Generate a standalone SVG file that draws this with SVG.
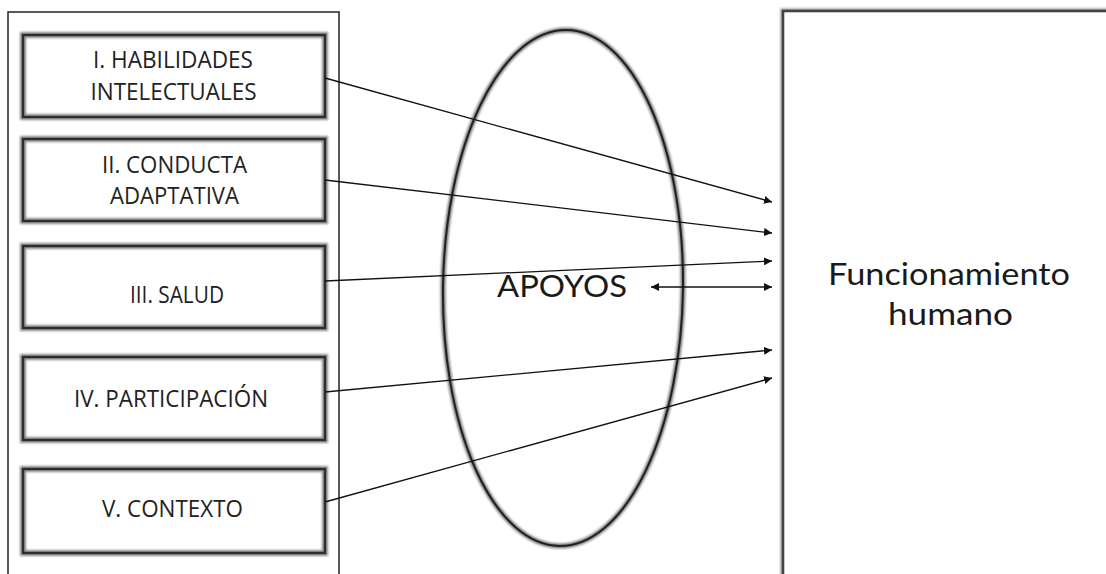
<svg xmlns="http://www.w3.org/2000/svg" width="1106" height="574" viewBox="0 0 1106 574">
  <defs>
    <filter id="soft" x="-10%" y="-10%" width="120%" height="120%">
      <feGaussianBlur stdDeviation="1.3"/>
    </filter>
    <marker id="head" viewBox="0 0 10 10" refX="10" refY="5" markerWidth="8" markerHeight="8" markerUnits="userSpaceOnUse" orient="auto-start-reverse">
      <path d="M0,0 L10,5 L0,10 z" fill="#111"/>
    </marker>
    <style>
      .halo { fill: none; stroke: #8a8a8a; stroke-width: 6; filter: url(#soft); }
      .edge { fill: none; stroke: #2e2e2e; stroke-width: 2.4; }
      .label { font-family: "Open Sans", "Liberation Sans", sans-serif; font-size: 23px; fill: #222; text-anchor: middle; }
      .big { font-family: Lato, "Open Sans", sans-serif; fill: #1a1a1a; text-anchor: middle; }
      .link { stroke: #111; stroke-width: 1.3; fill: none; marker-end: url(#head); }
    </style>
  </defs>

  <rect width="1106" height="574" fill="#fff"/>

  <!-- left panel holding the five dimensions -->
  <rect id="panel" x="8" y="12" width="331" height="600" fill="#fff" stroke="#222" stroke-width="1.5"/>

  <g id="dim1">
    <rect class="halo" x="23" y="35" width="302" height="82"/>
    <rect class="edge" x="23" y="35" width="302" height="82" fill="#fff"/>
    <text class="label" x="173" y="68" textLength="160" lengthAdjust="spacingAndGlyphs">I. HABILIDADES</text>
    <text class="label" x="173.5" y="100" textLength="166" lengthAdjust="spacingAndGlyphs">INTELECTUALES</text>
  </g>
  <g id="dim2">
    <rect class="halo" x="23" y="139" width="302" height="82"/>
    <rect class="edge" x="23" y="139" width="302" height="82" fill="#fff"/>
    <text class="label" x="174.5" y="173" textLength="145" lengthAdjust="spacingAndGlyphs">II. CONDUCTA</text>
    <text class="label" x="174.5" y="204" textLength="129" lengthAdjust="spacingAndGlyphs">ADAPTATIVA</text>
  </g>
  <g id="dim3">
    <rect class="halo" x="23" y="246" width="302" height="82"/>
    <rect class="edge" x="23" y="246" width="302" height="82" fill="#fff"/>
    <text class="label" x="177" y="303" textLength="94" lengthAdjust="spacingAndGlyphs">III. SALUD</text>
  </g>
  <g id="dim4">
    <rect class="halo" x="23" y="357" width="302" height="83"/>
    <rect class="edge" x="23" y="357" width="302" height="83" fill="#fff"/>
    <text class="label" x="171" y="407" textLength="194" lengthAdjust="spacingAndGlyphs">IV. PARTICIPACIÓN</text>
  </g>
  <g id="dim5">
    <rect class="halo" x="23" y="469" width="302" height="84"/>
    <rect class="edge" x="23" y="469" width="302" height="84" fill="#fff"/>
    <text class="label" x="172.5" y="517" textLength="141" lengthAdjust="spacingAndGlyphs">V. CONTEXTO</text>
  </g>

  <!-- supports ellipse -->
  <g id="apoyos">
    <ellipse cx="563" cy="288" rx="120" ry="258" transform="rotate(0.8 563 288)" fill="none" stroke="#777" stroke-width="5" filter="url(#soft)"/>
    <ellipse cx="563" cy="288" rx="120" ry="258" transform="rotate(0.8 563 288)" fill="none" stroke="#222" stroke-width="2"/>
    <text class="big" x="562" y="297" font-size="30" textLength="130" lengthAdjust="spacingAndGlyphs">APOYOS</text>
  </g>

  <!-- human functioning panel -->
  <g id="funcionamiento">
    <rect x="783" y="11" width="400" height="600" fill="none" stroke="#999" stroke-width="5" filter="url(#soft)"/>
    <rect x="783" y="11" width="400" height="600" fill="#fff" stroke="#444" stroke-width="2.6"/>
    <text class="big" x="949" y="285" font-size="31" textLength="242" lengthAdjust="spacingAndGlyphs">Funcionamiento</text>
    <text class="big" x="950.5" y="325" font-size="31" textLength="125" lengthAdjust="spacingAndGlyphs">humano</text>
  </g>

  <!-- connectors -->
  <g id="connectors">
    <line class="link" x1="325" y1="78" x2="772" y2="202"/>
    <line class="link" x1="325" y1="180" x2="772" y2="233"/>
    <line class="link" x1="325" y1="281" x2="772" y2="261"/>
    <line class="link" x1="651" y1="287" x2="772" y2="287" marker-start="url(#head)"/>
    <line class="link" x1="325" y1="392" x2="772" y2="350"/>
    <line class="link" x1="325" y1="502" x2="772" y2="378"/>
  </g>
</svg>
